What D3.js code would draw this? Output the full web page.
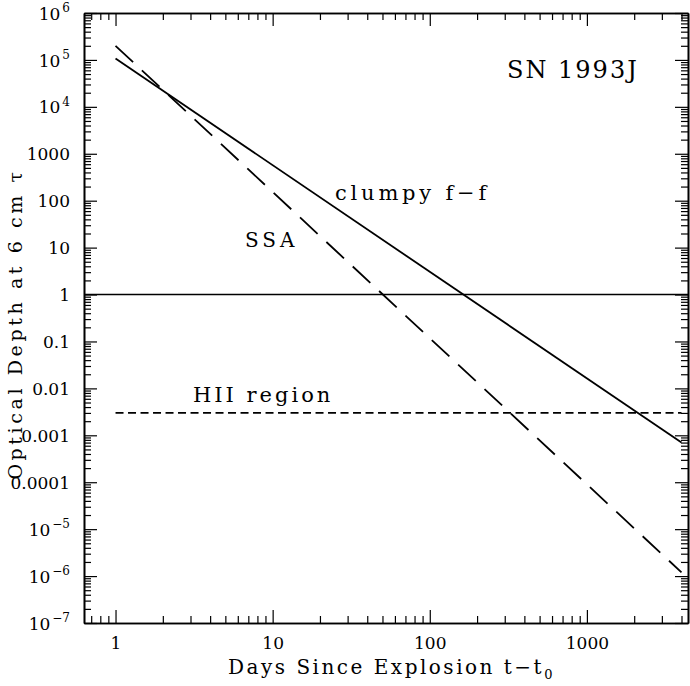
<!DOCTYPE html>
<html>
<head>
<meta charset="utf-8">
<script src="https://cdn.jsdelivr.net/npm/d3@7"></script>
<style>
	body { margin: 0; background: #fff; }
	svg text { font-family: 'DejaVu Serif', serif; fill: #000; }
</style>
</head>
<body>
<div id="chart"></div>
<script>
// values
const days = [1, 4000];
const clumpyFF = [1.07e5, 7.0e-4];
const ssa = [2.0e5, 1.2e-6];
const hiiRegion = [0.003, 0.003];
const unityTau = [1, 1];

const xMajor = [1, 10, 100, 1000];
const xLabels = ['1', '10', '100', '1000'];
const yMajor = [1e6, 1e5, 1e4, 1000, 100, 10, 1, 0.1, 0.01, 0.001, 0.0001, 1e-5, 1e-6, 1e-7];
const yLabels = [['10', '6'], ['10', '5'], ['10', '4'], ['1000'], ['100'], ['10'], ['1'], ['0.1'],
	['0.01'], ['0.001'], ['0.0001'], ['10', '\u22125'], ['10', '\u22126'], ['10', '\u22127']];

const W = 690;
const H = 686;
const margin = { top: 13, right: 2, bottom: 63, left: 84 };
const width = W - margin.left - margin.right;
const height = H - margin.top - margin.bottom;

const svg = d3
	.select('#chart')
	.append('svg')
	.attr('width', W)
	.attr('height', H)
	.append('g')
	.attr('transform', `translate(${margin.left}, ${margin.top})`);

const xScale = d3.scaleLog().domain([ 0.63, 4400 ]).range([ 0, width ]);
const yScale = d3.scaleLog().domain([ 1e-7, 1e6 ]).range([ height, 0 ]);

// minor ticks: 2..9 in every decade inside the domain
const minorTicks = (scale) => {
	const [ a, b ] = scale.domain();
	const out = [];
	for (let e = Math.floor(Math.log10(Math.min(a, b))); e <= Math.ceil(Math.log10(Math.max(a, b))); e++) {
		for (let m = 2; m <= 9; m++) {
			const v = m * Math.pow(10, e);
			if (v > Math.min(a, b) && v < Math.max(a, b)) out.push(v);
		}
	}
	return out;
};

const styleAxis = (g) => {
	g.select('.domain').attr('stroke', '#000').attr('stroke-width', 1.6);
	g.selectAll('.tick line').attr('stroke', '#000').attr('stroke-width', 1.2);
};

// bottom / top / left / right, major + minor, ticks pointing inward
svg.append('g').attr('transform', `translate(0, ${height})`)
	.call(d3.axisBottom(xScale).tickValues(minorTicks(xScale)).tickSize(-7).tickSizeOuter(0).tickFormat(''))
	.call(styleAxis);
const xAxisG = svg.append('g').attr('transform', `translate(0, ${height})`)
	.call(d3.axisBottom(xScale).tickValues(xMajor).tickSize(-13).tickSizeOuter(0).tickPadding(17)
		.tickFormat((d, i) => xLabels[i]))
	.call(styleAxis);
xAxisG.selectAll('.tick text').attr('font-size', 17).attr('font-family', 'DejaVu Serif').attr('dy', '0.55em');

svg.append('g')
	.call(d3.axisTop(xScale).tickValues(minorTicks(xScale)).tickSize(-7).tickSizeOuter(0).tickFormat(''))
	.call(styleAxis);
svg.append('g')
	.call(d3.axisTop(xScale).tickValues(xMajor).tickSize(-13).tickSizeOuter(0).tickFormat(''))
	.call(styleAxis);

svg.append('g')
	.call(d3.axisLeft(yScale).tickValues(minorTicks(yScale)).tickSize(-7).tickSizeOuter(0).tickFormat(''))
	.call(styleAxis);
const yAxisG = svg.append('g')
	.call(d3.axisLeft(yScale).tickValues(yMajor).tickSize(-13).tickSizeOuter(0).tickPadding(14).tickFormat(''))
	.call(styleAxis);

yAxisG.selectAll('.tick text').each(function (d, i) {
	const t = d3.select(this).attr('font-size', 17).attr('font-family', 'DejaVu Serif').attr('dy', '0.36em');
	const lab = yLabels[i];
	t.append('tspan').text(lab[0]);
	if (lab.length > 1) {
		t.append('tspan').attr('dy', '-0.62em').attr('dx', 2).attr('font-size', 12).text(lab[1]);
	}
});

svg.append('g').attr('transform', `translate(${width}, 0)`)
	.call(d3.axisRight(yScale).tickValues(minorTicks(yScale)).tickSize(-7).tickSizeOuter(0).tickFormat(''))
	.call(styleAxis);
svg.append('g').attr('transform', `translate(${width}, 0)`)
	.call(d3.axisRight(yScale).tickValues(yMajor).tickSize(-13).tickSizeOuter(0).tickFormat(''))
	.call(styleAxis);

const line = d3.line().x((d) => xScale(d[0])).y((d) => yScale(d[1]));

// tau = 1
svg.append('path')
	.datum(xScale.domain().map((d, i) => [ d, unityTau[i] ]))
	.attr('d', line)
	.attr('fill', 'none')
	.attr('stroke', '#000')
	.attr('stroke-width', 1.6);

// HII region
svg.append('path')
	.datum(days.map((d, i) => [ d, hiiRegion[i] ]))
	.attr('d', line)
	.attr('fill', 'none')
	.attr('stroke', '#000')
	.attr('stroke-width', 1.8)
	.attr('stroke-dasharray', '8, 4.5');

// clumpy free-free
svg.append('path')
	.datum(days.map((d, i) => [ d, clumpyFF[i] ]))
	.attr('d', line)
	.attr('fill', 'none')
	.attr('stroke', '#000')
	.attr('stroke-width', 1.8);

// SSA
svg.append('path')
	.datum(days.map((d, i) => [ d, ssa[i] ]))
	.attr('d', line)
	.attr('fill', 'none')
	.attr('stroke', '#000')
	.attr('stroke-width', 1.8)
	.attr('stroke-dasharray', '24, 12');

// labels in the plot
const label = (x, y, size, spacing, txt) => svg.append('text')
	.attr('x', x - margin.left)
	.attr('y', y - margin.top)
	.attr('font-size', size)
	.attr('letter-spacing', spacing)
	.text(txt);

label(507, 78, 24, 2, 'SN 1993J');
label(335, 200, 21, 3.8, 'clumpy f\u2212f');
label(245, 247, 20, 4, 'SSA');
label(193, 402, 21, 3, 'HII region');

// axis titles
const xt = svg.append('text')
	.attr('x', 228 - margin.left)
	.attr('y', 674 - margin.top)
	.attr('font-size', 20)
	.attr('letter-spacing', 2.5);
xt.append('tspan').text('Days Since Explosion  t\u2212t');
xt.append('tspan').attr('dy', 5).attr('font-size', 13).text('0');

svg.append('text')
	.attr('transform', `translate(${22 - margin.left}, ${324 - margin.top}) rotate(-90)`)
	.attr('text-anchor', 'middle')
	.attr('font-size', 19)
	.attr('letter-spacing', 3.6)
	.text('Optical Depth at 6 cm  \u03c4');
</script>
</body>
</html>
